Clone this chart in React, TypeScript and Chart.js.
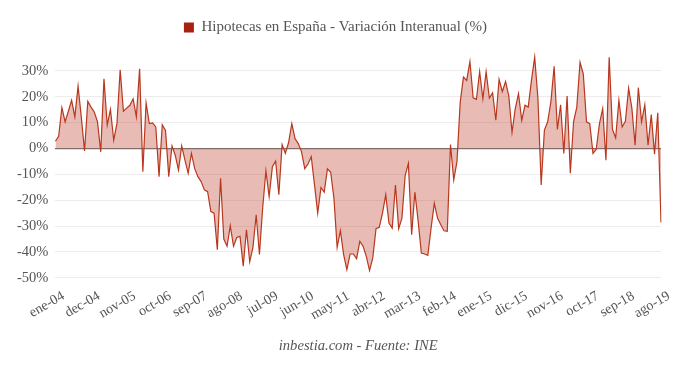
import React, { useEffect, useRef } from "react";
import { Chart, registerables } from "chart.js";

Chart.register(...registerables);

const MONTHS = ["ene", "feb", "mar", "abr", "may", "jun", "jul", "ago", "sep", "oct", "nov", "dic"];
const START_YEAR = 2004;
const N_POINTS = 188;
const CATEGORIES: string[] = [];
for (let i = 0; i < N_POINTS; i++) {
  const y = START_YEAR + Math.floor(i / 12);
  CATEGORIES.push(MONTHS[i % 12] + "-" + String(y).slice(2));
}

const TICK_LABELS = [
  "ene-04", "dec-04", "nov-05", "oct-06", "sep-07", "ago-08", "jul-09", "jun-10", "may-11",
  "abr-12", "mar-13", "feb-14", "ene-15", "dic-15", "nov-16", "oct-17", "sep-18", "ago-19",
];
const TICK_EVERY = 11;

const Y_TICKS = [30, 20, 10, 0, -10, -20, -30, -40, -50];

const VALUES_2004_2007 = [
  2.8, 4.7, 15.8, 10.3, 14.4, 18.6, 12.2, 24.1, 12, -1, 18.2, 16,
  14.1, 10.3, -1.3, 26.9, 9, 15.1, 3.2, 9.6, 30.4, 14.4, 15.6, 16.7,
  19.2, 12.2, 30.8, -9, 17.6, 9.6, 9.9, 8.3, -10.9, 9.2, 7, -10.9,
  1, -2.6, -8.3, 1, -4.5, -9.6, -1.9, -7.7, -10.9, -12.8, -16, -16.7,
];
const VALUES_2008_2011 = [
  -24.4, -25, -39.1, -11.5, -35, -37.8, -29.9, -37.8, -34.4, -34, -45.5, -31.4,
  -43.8, -38.2, -25.6, -41, -23, -8.7, -18.6, -7, -4.9, -17.9, 1.5, -1.9,
  2.3, 9.6, 3.8, 1.9, -1.3, -7.8, -6, -3.2, -14, -25, -15.1, -16.9,
  -7.9, -9.2, -19.2, -38.2, -31.8, -41, -46.8, -40.8, -40.8, -42.6, -35.9, -37.8,
];
const VALUES_2012_2015 = [
  -41.7, -47.2, -42.3, -31, -30.5, -25, -17.9, -28.8, -30.8, -14.1, -31, -26.9,
  -10.5, -5.8, -33.3, -16.9, -28, -40.4, -40.8, -41.3, -30.8, -21.2, -26.9, -29.5,
  -31.8, -32, 1.5, -12.2, -5.1, 17.9, 27.6, 26.3, 33.6, 19.6, 19, 29.7,
  19.2, 29.7, 19.5, 21.5, 10.9, 26.7, 22, 25.9, 20.3, 6.2, 15.4, 21.2,
];
const VALUES_2016_2019 = [
  10.9, 16.7, 16, 26.3, 35.3, 19.2, -14.1, 7.1, 10.3, 18, 31.8, 7.4,
  16.9, -1.9, 20.3, -9.6, 10.3, 16, 33.3, 28.8, 10.3, 9.6, -1.9, -0.3,
  9.6, 15.4, -4.5, 35.3, 7.4, 4.1, 18.6, 8.3, 10.5, 23.3, 15.6, 1.3,
  23.5, 10.3, 16.9, 1.3, 13.1, -2.2, 13.8, -28.6,
];
const VALUES = [...VALUES_2004_2007, ...VALUES_2008_2011, ...VALUES_2012_2015, ...VALUES_2016_2019];

const SERIES_NAME = "Hipotecas en España - Variación Interanual (%)";
const SOURCE_TEXT = "inbestia.com - Fuente: INE";

const FONT = "'Liberation Serif', 'Times New Roman', serif";

export default function App() {
  const ref = useRef<HTMLCanvasElement | null>(null);

  useEffect(() => {
    if (!ref.current) return;
    const chart = new Chart(ref.current, {
      type: "line",
      data: {
        labels: CATEGORIES,
        datasets: [
          {
            label: SERIES_NAME,
            data: VALUES,
            borderColor: "#b8381f",
            backgroundColor: "rgba(190, 70, 50, 0.36)",
            borderWidth: 1.2,
            pointRadius: 0,
            tension: 0,
            fill: "origin",
          },
        ],
      },
      options: {
        responsive: false,
        animation: false,
        layout: { padding: { left: 10, right: 19, top: 0, bottom: 4 } },
        plugins: {
          legend: {
            position: "top",
            labels: {
              font: { family: FONT, size: 15 },
              color: "#555",
              boxWidth: 10,
              boxHeight: 10,
              padding: 20,
              generateLabels: (c: any) => [
                {
                  text: SERIES_NAME,
                  fillStyle: "#a8200f",
                  strokeStyle: "#a8200f",
                  lineWidth: 0,
                  hidden: false,
                  datasetIndex: 0,
                  fontColor: "#555",
                },
              ],
            },
          },
          title: {
            display: true,
            position: "bottom",
            fullSize: false,
            text: SOURCE_TEXT,
            color: "#555",
            font: { family: FONT, size: 14.6, style: "italic", weight: "normal" },
            padding: { top: 12, bottom: 12 },
          },
          tooltip: { enabled: false },
        },
        scales: {
          x: {
            grid: { display: false },
            border: { display: false },
            afterBuildTicks: (scale: any) => {
              scale.ticks = scale.ticks.filter((t: any) => t.value % TICK_EVERY === 0);
            },
            ticks: {
              autoSkip: false,
              minRotation: 30,
              maxRotation: 30,
              labelOffset: 8,
              color: "#555",
              font: { family: FONT, size: 14 },
              padding: 2,
              callback: (value: any) => TICK_LABELS[Math.round(Number(value) / TICK_EVERY)] ?? "",
            },
          },
          y: {
            min: -50,
            max: 40,
            afterBuildTicks: (scale: any) => {
              scale.ticks = Y_TICKS.map((v) => ({ value: v }));
            },
            border: { display: false },
            grid: {
              color: (ctx: any) => (ctx.tick && ctx.tick.value === 0 ? "#777" : "#ececec"),
              lineWidth: (ctx: any) => (ctx.tick && ctx.tick.value === 0 ? 1.3 : 1),
              drawTicks: false,
            },
            ticks: {
              color: "#555",
              font: { family: FONT, size: 14.5 },
              padding: 7,
              callback: (value: any) => value + "%",
            },
          },
        },
      },
    });
    return () => chart.destroy();
  }, []);

  return (
    <div style={{ position: "fixed", left: 0, top: 0, width: 680, height: 371, background: "#fff" }}>
      <canvas ref={ref} width={680} height={371} />
    </div>
  );
}
